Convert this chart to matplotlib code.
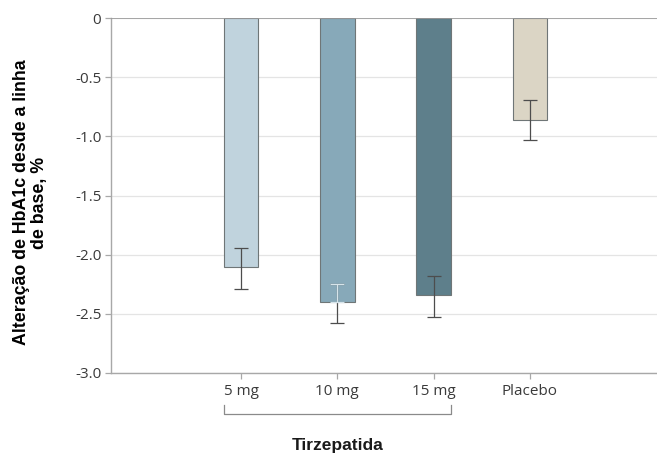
import numpy as np
import matplotlib.pyplot as plt

plt.rcParams['axes.unicode_minus'] = False

# HbA1c change from baseline, with 95% CI bounds
groups = ["5 mg", "10 mg", "15 mg", "Placebo"]
mean_change = [-2.10, -2.40, -2.34, -0.86]
ci_upper = [-1.94, -2.25, -2.18, -0.69]
ci_lower = [-2.29, -2.58, -2.53, -1.03]
bar_colors = ["#c0d3dd", "#87a9b9", "#5e7f8b", "#dbd5c5"]
y_ticks = [0, -0.5, -1.0, -1.5, -2.0, -2.5, -3.0]
y_ticklabels = ["0", "-0.5", "-1.0", "-1.5", "-2.0", "-2.5", "-3.0"]

fig = plt.figure(figsize=(6.57, 4.55), dpi=100)
ax = fig.add_axes([111 / 657, 1 - 373 / 455, 1 - 111 / 657, (373 - 18) / 455])

x = np.arange(len(groups))
width = 0.36
ax.bar(x, mean_change, width=width, color=bar_colors, edgecolor="#6f7677",
       linewidth=0.8, zorder=3)

mean = np.array(mean_change)
yerr = np.array([mean - np.array(ci_lower), np.array(ci_upper) - mean])
ax.errorbar(x, mean, yerr=yerr, fmt="none", ecolor="#4d4d4d", elinewidth=0.9,
            capsize=5, capthick=0.9, zorder=4)
# upper whisker of the 10 mg bar sits inside a mid-tone bar, drawn light
ax.errorbar([x[1]], [mean[1]], yerr=[[0], [ci_upper[1] - mean[1]]], fmt="none",
            ecolor="#d6e4ea", elinewidth=0.9, capsize=5, capthick=0.9, zorder=5)

ax.set_xlim(-1.35, 4.32)
ax.set_ylim(-3.0, 0)
ax.set_yticks(y_ticks)
ax.set_yticklabels(y_ticklabels)
ax.set_xticks(x)
ax.set_xticklabels(groups)

ax.grid(axis="y", color="#e4e4e4", linewidth=0.9, zorder=0)
ax.axhline(0, color="#9a9a9a", linewidth=1.2, zorder=5)
for side in ["top", "right"]:
    ax.spines[side].set_visible(False)
for side in ["left", "bottom"]:
    ax.spines[side].set_color("#a8a8a8")
    ax.spines[side].set_linewidth(1.0)

ax.tick_params(axis="both", colors="#a8a8a8", labelcolor="#3a3a3a",
               length=4, width=0.9, labelsize=11)
ax.tick_params(axis="x", pad=4)
ax.tick_params(axis="y", pad=3)
for lbl in ax.get_xticklabels() + ax.get_yticklabels():
    lbl.set_family("Open Sans")

ax.set_ylabel("Alteração de HbA1c desde a linha\nde base, %", fontsize=12.8,
              fontweight="bold", family="Liberation Sans", linespacing=1.1)
ax.yaxis.set_label_coords(-0.115, 0.48)

# bracket grouping the tirzepatide doses
trans = ax.get_xaxis_transform()
bx0, bx1 = x[0] - width / 2, x[2] + width / 2
ax.plot([bx0, bx0, bx1, bx1], [-0.09, -0.115, -0.115, -0.09], color="#8a8a8a",
        linewidth=0.9, transform=trans, clip_on=False)
ax.text(x[1], -0.205, "Tirzepatida", transform=trans, ha="center", va="center",
        fontsize=12.5, fontweight="bold", family="Liberation Sans", color="#1a1a1a")

fig.savefig("out.png", dpi=100)
